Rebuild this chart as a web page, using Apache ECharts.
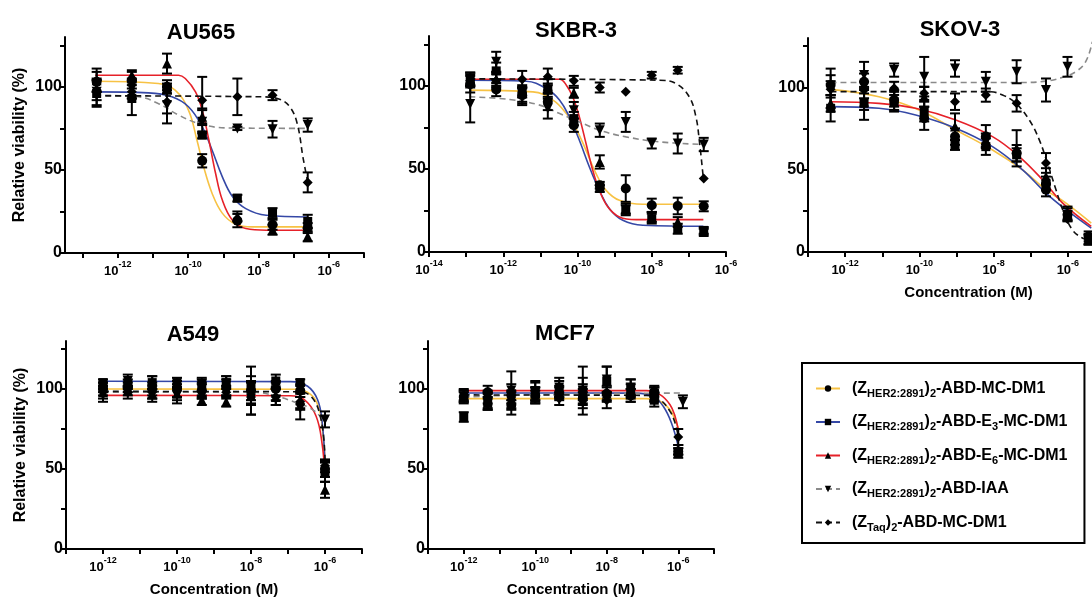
<!DOCTYPE html>
<html>
<head>
<meta charset="utf-8">
<script src="https://cdn.jsdelivr.net/npm/echarts@6/dist/echarts.min.js"></script>
<style>
  html, body { margin: 0; padding: 0; background: #fff; }
  #chart { width: 1092px; height: 598px; }
</style>
</head>
<body>
<div id="chart"></div>
<script>
// 浓度均为 log10(M)
// ---------- AU565 ----------
const au565Conc = [-12.6, -11.6, -10.6, -9.6, -8.6, -7.6, -6.6];
const au565DM1 = [103, 104, 100, 55.5, 19.5, 17, 15];
const au565DM1Err = [6, 5, 4, 4, 4, 3, 3];
const au565E3 = [96, 93, 99, 71, 33, 24, 19];
const au565E3Err = [8, 10, 3, 2, 2, 3, 4];
const au565E6 = [104, 107, 114, 82, 22, 14, 10];
const au565E6Err = [7, 3, 6, 5, 3, 3, 3];
const au565IAA = [97, 99, 89, 79, 75, 74.5, 77];
const au565IAAErr = [8, 6, 11, 7, 1, 5, 4];
const au565Taq = [98, 97, 91, 92, 94, 95, 42.5];
const au565TaqErr = [6, 4, 7, 14, 11, 3, 6];
const au565FitDM1 = [[-12.64, 103.4], [-10.85, 102], [-10.37, 98], [-9.99, 86], [-9.75, 68], [-9.56, 52], [-9.32, 36], [-9.03, 24], [-8.65, 17.3], [-8.17, 15.7], [-6.59, 15.7]];
const au565FitE3 = [[-12.64, 97], [-11.13, 96.4], [-10.46, 94], [-9.99, 88], [-9.6, 76], [-9.32, 62], [-9.03, 46], [-8.74, 34], [-8.36, 26.7], [-7.78, 22.7], [-6.59, 21.7]];
const au565FitE6 = [[-12.64, 107], [-10.27, 107], [-10.08, 105], [-9.79, 97], [-9.6, 86], [-9.41, 68], [-9.22, 48], [-9.03, 32], [-8.74, 19.7], [-8.36, 14.7], [-7.78, 13.7], [-6.59, 13.7]];
const au565FitIAA = [[-12.64, 95], [-11.42, 94], [-10.85, 90], [-10.27, 83], [-9.7, 78], [-8.93, 75.3], [-6.59, 75]];
const au565FitTaq = [[-12.64, 94.6], [-7.88, 94], [-7.4, 92.5], [-7.11, 88], [-6.9, 78], [-6.73, 57], [-6.6, 42.8]];

// ---------- SKBR-3 ----------
const skbr3Conc = [-12.89, -12.19, -11.49, -10.8, -10.1, -9.4, -8.7, -8.0, -7.3, -6.6];
const skbr3DM1 = [101, 97.8, 94.4, 90.4, 76.3, 40.2, 38.2, 28.1, 27.7, 27.5];
const skbr3DM1Err = [5, 4, 5, 5, 4, 2, 8, 4, 5, 3];
const skbr3E3 = [104, 109, 95.4, 97.4, 80.3, 38.2, 25.1, 20.1, 14, 13];
const skbr3E3Err = [4, 5, 5, 4, 4, 2, 3, 3, 3, 2];
const skbr3E6 = [104, 104, 96, 100, 95.8, 54.2, 26.1, 21.1, 18, 12];
const skbr3E6Err = [4, 4, 3, 4, 3, 4, 3, 3, 3, 2];
const skbr3IAA = [89, 114.5, 93.4, 86.3, 85.3, 73.3, 78.3, 65.3, 65.3, 64.7];
const skbr3IAAErr = [11, 6, 5, 6, 5, 4, 6, 3, 6, 4];
const skbr3Taq = [103, 103, 104, 105.4, 103, 99, 96.4, 106.4, 109.4, 44.2];
const skbr3TaqErr = [4, 4, 5, 5, 3, 3, 0, 2, 2, 0];
const skbr3FitDM1 = [[-12.91, 97.4], [-11.2, 96.4], [-10.66, 91.4], [-10.3, 83.3], [-10.04, 74.3], [-9.77, 61.2], [-9.5, 47.2], [-9.23, 37.1], [-8.87, 31.1], [-8.24, 28.7], [-6.61, 28.7]];
const skbr3FitE3 = [[-12.91, 103.4], [-11.38, 102.8], [-10.84, 98.4], [-10.48, 91.4], [-10.22, 81.3], [-9.95, 67.3], [-9.68, 51.2], [-9.41, 37.1], [-9.14, 26.1], [-8.78, 19.1], [-8.24, 16.1], [-6.61, 15.5]];
const skbr3FitE6 = [[-12.91, 104], [-10.48, 104], [-10.3, 100.4], [-10.13, 93.4], [-9.95, 81.3], [-9.77, 65.3], [-9.59, 49.2], [-9.41, 37.1], [-9.18, 27.1], [-8.87, 21.1], [-8.42, 19.5], [-6.61, 19.5]];
const skbr3FitIAA = [[-12.91, 93.4], [-11.83, 91.8], [-11.02, 88.4], [-10.48, 83.3], [-9.95, 78.3], [-9.41, 73.3], [-8.69, 69.3], [-7.79, 66.3], [-6.61, 64.7]];
const skbr3FitTaq = [[-12.91, 104.2], [-7.79, 103.4], [-7.35, 101.4], [-6.99, 93.4], [-6.81, 81.3], [-6.72, 67.3], [-6.61, 44.2]];

// ---------- SKOV-3 ----------
const skov3Conc = [-12.39, -11.49, -10.68, -9.87, -9.04, -8.21, -7.38, -6.59, -6.01, -5.44];
const skov3DM1 = [101.4, 103.4, 92.3, 81.2, 70.1, 70.1, 60, 37.8, 22.6, 9.5];
const skov3DM1Err = [6, 5, 6, 7, 5, 7, 5, 4, 4, 3];
const skov3E3 = [87.3, 90.3, 91.3, 85.3, 65, 64, 59, 41.8, 22, 7.5];
const skov3E3Err = [8, 10, 6, 6, 3, 5, 4, 4, 3, 3];
const skov3E6 = [90.3, 91.3, 93.3, 94.3, 76.2, 68, 63, 45.9, 23.6, 7.5];
const skov3E6Err = [5, 5, 5, 6, 8, 4, 11, 5, 4, 3];
const skov3IAA = [99.4, 107.5, 110.5, 106.5, 111.5, 103.4, 109.5, 98.4, 112.5, null];
const skov3IAAErr = [12, 8, 4, 12, 5, 6, 7, 7, 6, null];
const skov3Taq = [98.8, 98.4, 99.4, 96.4, 91.3, 95.3, 90.3, 54.1, 20, 8];
const skov3TaqErr = [5, 5, 4, 4, 5, 4, 5, 6, 0, 3];
const skov3FitDM1 = [[-12.39, 98.8], [-11.09, 94.3], [-10.01, 86.3], [-9.02, 74.1], [-8.03, 62], [-7.22, 49.9], [-6.59, 37.8], [-6.05, 29.7], [-5.37, 17.6]];
const skov3FitE3 = [[-12.39, 88.3], [-11.09, 87.3], [-10.1, 83.2], [-9.02, 75.2], [-8.03, 64], [-7.22, 49.9], [-6.59, 35.8], [-6.05, 25.7], [-5.37, 14.5]];
const skov3FitE6 = [[-12.39, 91.3], [-11.09, 90.3], [-10.1, 87.3], [-9.02, 80.2], [-8.03, 70.1], [-7.31, 58], [-6.68, 43.8], [-6.14, 29.7], [-5.37, 15.6]];
const skov3FitIAA = [[-12.39, 103], [-7.22, 103], [-6.59, 103.8], [-6.14, 106.1], [-5.79, 109.5], [-5.52, 115.6], [-5.34, 127.7]];
const skov3FitTaq = [[-12.39, 97.4], [-8.12, 97.4], [-7.76, 95.4], [-7.4, 90.3], [-7.04, 80.2], [-6.77, 68.1], [-6.55, 53.9], [-6.32, 37.8], [-6.14, 25.7], [-5.88, 13.5], [-5.61, 8.5], [-5.44, 7.5]];

// ---------- A549 ----------
const a549Conc = [-12, -11.33, -10.67, -10, -9.33, -8.67, -8, -7.33, -6.67, -6];
const a549DM1 = [100, 101, 100, 100, 99, 101, 99, 100, 99, 50];
const a549DM1Err = [4, 3, 4, 5, 5, 5, 6, 4, 4, 5];
const a549E3 = [104, 103, 104, 104, 103, 104, 102, 105, 104, 48];
const a549E3Err = [2, 3, 4, 3, 4, 4, 12, 4, 2, 6];
const a549E6 = [98, 99, 97, 97, 93, 92, 96, 95, 93, 37];
const a549E6Err = [4, 3, 3, 4, 3, 3, 12, 5, 5, 5];
const a549IAA = [96, 105, 100, 96, 100, 102, 94, 99, 88, 81];
const a549IAAErr = [4, 4, 8, 5, 6, 6, 10, 6, 7, 5];
const a549Taq = [101, 98, 98, 99, 99, 98, 95, 95, 92, 52];
const a549TaqErr = [3, 4, 4, 4, 4, 4, 4, 5, 5, 4];
const a549FitDM1 = [[-12, 100], [-6.84, 99.8], [-6.38, 96.5], [-6.15, 87], [-6.05, 70], [-6, 55.8]];
const a549FitE3 = [[-12, 104.8], [-6.93, 104.6], [-6.47, 101.7], [-6.2, 93.3], [-6.08, 80], [-6, 53.8]];
const a549FitE6 = [[-12, 96], [-6.93, 95.8], [-6.56, 93.3], [-6.24, 83], [-6.08, 66], [-6, 45.4]];
const a549FitIAA = [[-12, 98], [-7.93, 98], [-7.3, 95.4], [-6.76, 91.3], [-6.4, 88], [-6.13, 83], [-6, 79]];
const a549FitTaq = [[-12, 98.5], [-6.84, 98.3], [-6.38, 95.4], [-6.1, 80], [-6, 55.8]];

// ---------- MCF7 ----------
const mcf7Conc = [-12, -11.33, -10.67, -10, -9.33, -8.67, -8, -7.33, -6.67, -6];
const mcf7ConcIAA = [-12, -11.33, -10.67, -10, -9.33, -8.67, -8, -7.33, -6.67, -5.87];
const mcf7DM1 = [95, 98, 90, 96, 97, 94, 97, 96, 98, 61];
const mcf7DM1Err = [3, 4, 6, 5, 4, 4, 5, 4, 3, 2];
const mcf7E3 = [82.5, 91, 97, 99, 100, 99, 105, 100, 93, 60];
const mcf7E3Err = [3, 4, 6, 6, 5, 8, 9, 6, 4, 3];
const mcf7E6 = [96, 93, 96, 97, 98, 98, 97, 99, 95, 62];
const mcf7E6Err = [4, 5, 3, 4, 4, 5, 4, 4, 3, 3];
const mcf7IAA = [95, 92, 99, 98, 101, 99, 106, 101, 97, 92];
const mcf7IAAErr = [4, 5, 12, 6, 6, 15, 8, 5, 4, 4];
const mcf7Taq = [96, 95, 93, 95, 94, 94, 93, 96, 99, 70];
const mcf7TaqErr = [3, 4, 5, 4, 4, 6, 5, 4, 3, 5];
const mcf7FitDM1 = [[-12, 94], [-6.89, 94], [-6.51, 92.3], [-6.23, 87], [-6.09, 80.8], [-6, 75.6]];
const mcf7FitE3 = [[-12, 97.5], [-7.2, 97.4], [-6.7, 95.4], [-6.42, 89.2], [-6.19, 78.8], [-6, 64.2]];
const mcf7FitE6 = [[-12, 99], [-6.89, 99], [-6.51, 96.5], [-6.23, 90.2], [-6.09, 83], [-6, 74.6]];
const mcf7FitIAA = [[-12, 95], [-10, 96.5], [-5.87, 97.5]];
const mcf7FitTaq = [[-12, 96.3], [-6.89, 96], [-6.51, 93.3], [-6.23, 86], [-6.09, 78.8], [-6, 70.4]];

// 坐标轴刻度
const yTicks = [0, 25, 50, 75, 100, 125];
const yTickLabels = [0, 50, 100];
const xTicks13 = [-13, -12, -11, -10, -9, -8, -7, -6, -5];
const xTicks14 = [-14, -13, -12, -11, -10, -9, -8, -7, -6];
const xTickLabels13 = [-12, -10, -8, -6];
const xTickLabels14 = [-14, -12, -10, -8, -6];

// 图例名称与样式
const seriesNames = ['(ZHER2:2891)2-ABD-MC-DM1', '(ZHER2:2891)2-ABD-E3-MC-DM1', '(ZHER2:2891)2-ABD-E6-MC-DM1', '(ZHER2:2891)2-ABD-IAA', '(ZTaq)2-ABD-MC-DM1'];
const legendLabels = [
    '(Z{s|HER2:2891}){s|2}-ABD-MC-DM1',
    '(Z{s|HER2:2891}){s|2}-ABD-E{s|3}-MC-DM1',
    '(Z{s|HER2:2891}){s|2}-ABD-E{s|6}-MC-DM1',
    '(Z{s|HER2:2891}){s|2}-ABD-IAA',
    '(Z{s|Taq}){s|2}-ABD-MC-DM1'
];
const lineColors = ['#f7c244', '#3548a6', '#e62129', '#8a8a8a', '#111111'];
const symbols = ['circle', 'rect', 'triangle', 'triangle', 'diamond'];
const symbolRotates = [0, 0, 0, 180, 0];
const symbolSizes = [10, 9, 10, 10, 10];
const isDashed = [false, false, false, true, true];

const FONT = 'Liberation Sans, Arial, Helvetica, sans-serif';

const panels = [
    { title: 'AU565', conc: [au565Conc, au565Conc, au565Conc, au565Conc, au565Conc],
      vals: [au565DM1, au565E3, au565E6, au565IAA, au565Taq],
      errs: [au565DM1Err, au565E3Err, au565E6Err, au565IAAErr, au565TaqErr],
      fits: [au565FitDM1, au565FitE3, au565FitE6, au565FitIAA, au565FitTaq],
      grid: { left: 65, top: 37, width: 299, height: 216 }, xMin: -13.5, xMax: -5,
      xTicks: xTicks13, xLabels: xTickLabels13,
      yName: true, xName: false, titlePos: [201, 22] },
    { title: 'SKBR-3', conc: [skbr3Conc, skbr3Conc, skbr3Conc, skbr3Conc, skbr3Conc],
      vals: [skbr3DM1, skbr3E3, skbr3E6, skbr3IAA, skbr3Taq],
      errs: [skbr3DM1Err, skbr3E3Err, skbr3E6Err, skbr3IAAErr, skbr3TaqErr],
      fits: [skbr3FitDM1, skbr3FitE3, skbr3FitE6, skbr3FitIAA, skbr3FitTaq],
      grid: { left: 429, top: 36, width: 297, height: 216 }, xMin: -14, xMax: -6,
      xTicks: xTicks14, xLabels: xTickLabels14,
      yName: false, xName: false, titlePos: [576, 20] },
    { title: 'SKOV-3', conc: [skov3Conc, skov3Conc, skov3Conc, skov3Conc, skov3Conc],
      vals: [skov3DM1, skov3E3, skov3E6, skov3IAA, skov3Taq],
      errs: [skov3DM1Err, skov3E3Err, skov3E6Err, skov3IAAErr, skov3TaqErr],
      fits: [skov3FitDM1, skov3FitE3, skov3FitE6, skov3FitIAA, skov3FitTaq],
      grid: { left: 808, top: 38, width: 297, height: 214 }, xMin: -13, xMax: -5,
      xTicks: xTicks13, xLabels: xTickLabels13, xNameShift: 24,
      yName: false, xName: true, titlePos: [960, 19] },
    { title: 'A549', conc: [a549Conc, a549Conc, a549Conc, a549Conc, a549Conc],
      vals: [a549DM1, a549E3, a549E6, a549IAA, a549Taq],
      errs: [a549DM1Err, a549E3Err, a549E6Err, a549IAAErr, a549TaqErr],
      fits: [a549FitDM1, a549FitE3, a549FitE6, a549FitIAA, a549FitTaq],
      grid: { left: 66, top: 341, width: 296, height: 208 }, xMin: -13, xMax: -5,
      xTicks: xTicks13, xLabels: xTickLabels13,
      yName: true, xName: true, titlePos: [193, 324] },
    { title: 'MCF7', conc: [mcf7Conc, mcf7Conc, mcf7Conc, mcf7ConcIAA, mcf7Conc],
      vals: [mcf7DM1, mcf7E3, mcf7E6, mcf7IAA, mcf7Taq],
      errs: [mcf7DM1Err, mcf7E3Err, mcf7E6Err, mcf7IAAErr, mcf7TaqErr],
      fits: [mcf7FitDM1, mcf7FitE3, mcf7FitE6, mcf7FitIAA, mcf7FitTaq],
      grid: { left: 428, top: 341, width: 286, height: 208 }, xMin: -13, xMax: -5,
      xTicks: xTicks13, xLabels: xTickLabels13,
      yName: false, xName: true, titlePos: [565, 323] }
];

// 误差线
function renderErrorBar(params, api) {
    const x = api.value(0), y = api.value(1), e = api.value(2);
    if (isNaN(y) || !e) return;
    const top = api.coord([x, y + e]);
    const bot = api.coord([x, y - e]);
    const hw = 5;
    const style = { stroke: '#000', lineWidth: 2, fill: null };
    return {
        type: 'group',
        children: [
            { type: 'line', shape: { x1: top[0], y1: top[1], x2: bot[0], y2: bot[1] }, style },
            { type: 'line', shape: { x1: top[0] - hw, y1: top[1], x2: top[0] + hw, y2: top[1] }, style },
            { type: 'line', shape: { x1: bot[0] - hw, y1: bot[1], x2: bot[0] + hw, y2: bot[1] }, style }
        ]
    };
}

function xLabel(v) {
    return '{b|10}{s|' + Math.round(v) + '}';
}

const grids = [], xAxes = [], yAxes = [], titles = [];
const lineSeries = [], errSeries = [], pointSeries = [];

panels.forEach((p, gi) => {
    grids.push(Object.assign({ outerBoundsMode: 'none', containLabel: false }, p.grid));
    titles.push({
        text: p.title, left: p.titlePos[0], top: p.titlePos[1], textAlign: 'center', padding: 0,
        textStyle: { fontFamily: FONT, fontSize: 22, fontWeight: 'bold', color: '#000' }
    });
    const xAxis = {
        type: 'value', gridIndex: gi, min: p.xMin, max: p.xMax,
        axisLine: { onZero: false, lineStyle: { color: '#000', width: 2 } },
        axisTick: { length: 5, customValues: p.xTicks, lineStyle: { color: '#000', width: 2 } },
        splitLine: { show: false },
        axisLabel: {
            customValues: p.xLabels, formatter: xLabel, margin: 7,
            rich: {
                b: { fontFamily: FONT, fontSize: 13, fontWeight: 'bold', color: '#000', lineHeight: 22 },
                s: { fontFamily: FONT, fontSize: 9, fontWeight: 'bold', color: '#000', lineHeight: 10, verticalAlign: 'top' }
            }
        }
    };
    if (p.xName) {
        xAxis.name = 'Concentration (M)';
        xAxis.nameLocation = 'middle';
        xAxis.nameGap = 33;
        xAxis.nameTextStyle = { fontFamily: FONT, fontSize: 15, fontWeight: 'bold', color: '#000',
            padding: [0, 0, 0, p.xNameShift || 0] };
    }
    xAxes.push(xAxis);
    const yAxis = {
        type: 'value', gridIndex: gi, min: 0, max: 130,
        axisLine: { onZero: false, lineStyle: { color: '#000', width: 2 } },
        axisTick: { length: 5, customValues: yTicks, lineStyle: { color: '#000', width: 2 } },
        splitLine: { show: false },
        axisLabel: {
            customValues: yTickLabels, formatter: v => String(v),
            margin: 3, fontFamily: FONT, fontSize: 16, fontWeight: 'bold', color: '#000'
        }
    };
    if (p.yName) {
        yAxis.name = 'Relative viability (%)';
        yAxis.nameLocation = 'middle';
        yAxis.nameGap = 37;
        yAxis.nameTextStyle = { fontFamily: FONT, fontSize: 16, fontWeight: 'bold', color: '#000' };
    }
    yAxes.push(yAxis);

    for (let k = 0; k < 5; k++) {
        const conc = p.conc[k];
        lineSeries.push({
            name: seriesNames[k], type: 'line', xAxisIndex: gi, yAxisIndex: gi,
            data: p.fits[k], smooth: 0.4, showSymbol: false,
            symbol: symbols[k], symbolRotate: symbolRotates[k], symbolSize: symbolSizes[k],
            itemStyle: { color: '#000' },
            lineStyle: { color: lineColors[k], width: 1.6, type: isDashed[k] ? [6, 4] : 'solid' },
            clip: true, z: 2, silent: true
        });
        errSeries.push({
            name: seriesNames[k], type: 'custom', xAxisIndex: gi, yAxisIndex: gi,
            renderItem: renderErrorBar, clip: true, z: 3, silent: true,
            encode: { x: 0, y: 1 },
            data: conc.map((x, i) => [x, p.vals[k][i] == null ? NaN : p.vals[k][i], p.errs[k][i] || 0])
        });
        pointSeries.push({
            name: seriesNames[k], type: 'scatter', xAxisIndex: gi, yAxisIndex: gi,
            symbol: symbols[k], symbolRotate: symbolRotates[k], symbolSize: symbolSizes[k],
            itemStyle: { color: '#000', opacity: 1 },
            data: conc.map((x, i) => p.vals[k][i] == null ? null : [x, p.vals[k][i]]).filter(d => d),
            clip: true, z: 4, silent: true
        });
    }
});

const chart = echarts.init(document.getElementById('chart'), null, { renderer: 'canvas' });
chart.setOption({
    animation: false,
    backgroundColor: '#fff',
    title: titles,
    grid: grids,
    xAxis: xAxes,
    yAxis: yAxes,
    legend: {
        data: seriesNames, orient: 'vertical', left: 802, top: 363,
        padding: [15, 17, 10, 13], itemGap: 12.5, itemWidth: 24, itemHeight: 8,
        borderColor: '#000', borderWidth: 2, selectedMode: false,
        formatter: name => legendLabels[seriesNames.indexOf(name)],
        textStyle: {
            fontFamily: FONT, fontSize: 16, fontWeight: 'bold', color: '#000', lineHeight: 21,
            padding: [0, 0, 0, 7],
            rich: { s: { fontFamily: FONT, fontSize: 11, fontWeight: 'bold', color: '#000', lineHeight: 11, verticalAlign: 'bottom' } }
        }
    },
    series: [...lineSeries, ...errSeries, ...pointSeries]
});
</script>
</body>
</html>
